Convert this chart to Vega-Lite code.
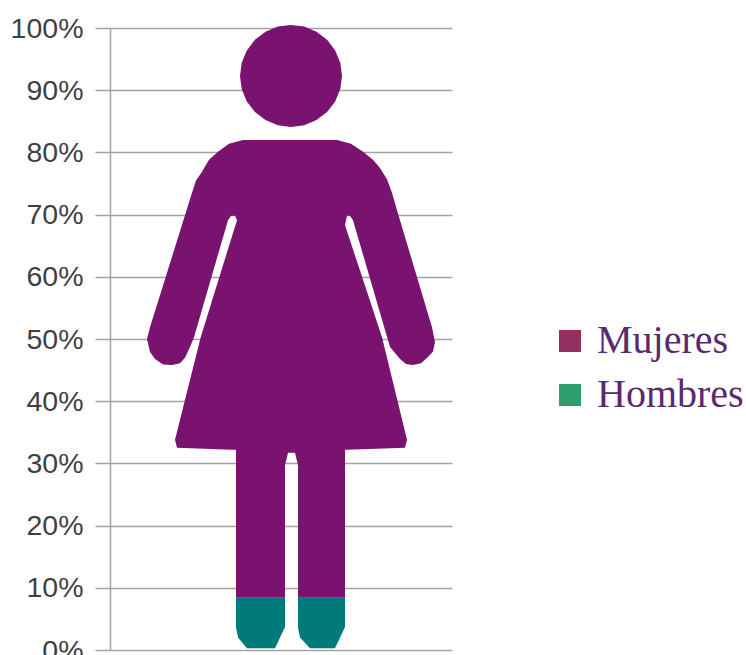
{"$schema":"https://vega.github.io/schema/vega-lite/v6.json","width":342,"height":622,"autosize":"none","padding":{"left":110,"top":28,"right":294,"bottom":5},"background":"white","view":{"stroke":null},
"resolve":{"scale":{"fill":"independent"}},
"layer":[
{"data":{"values":[
{"part":"head","group":"Mujeres","i":0,"x":232,"pct":92.3},{"part":"head","group":"Mujeres","i":1,"x":230.3,"pct":94.42},{"part":"head","group":"Mujeres","i":2,"x":225.2,"pct":96.4},{"part":"head","group":"Mujeres","i":3,"x":217.1,"pct":98.1},{"part":"head","group":"Mujeres","i":4,"x":206.5,"pct":99.41},{"part":"head","group":"Mujeres","i":5,"x":194.2,"pct":100.23},{"part":"head","group":"Mujeres","i":6,"x":181,"pct":100.5},{"part":"head","group":"Mujeres","i":7,"x":167.8,"pct":100.23},{"part":"head","group":"Mujeres","i":8,"x":155.5,"pct":99.41},{"part":"head","group":"Mujeres","i":9,"x":144.9,"pct":98.1},{"part":"head","group":"Mujeres","i":10,"x":136.8,"pct":96.4},{"part":"head","group":"Mujeres","i":11,"x":131.7,"pct":94.42},{"part":"head","group":"Mujeres","i":12,"x":130,"pct":92.3},{"part":"head","group":"Mujeres","i":13,"x":131.7,"pct":90.18},{"part":"head","group":"Mujeres","i":14,"x":136.8,"pct":88.2},{"part":"head","group":"Mujeres","i":15,"x":144.9,"pct":86.5},{"part":"head","group":"Mujeres","i":16,"x":155.5,"pct":85.19},{"part":"head","group":"Mujeres","i":17,"x":167.8,"pct":84.37},{"part":"head","group":"Mujeres","i":18,"x":181,"pct":84.1},{"part":"head","group":"Mujeres","i":19,"x":194.2,"pct":84.37},{"part":"head","group":"Mujeres","i":20,"x":206.5,"pct":85.19},{"part":"head","group":"Mujeres","i":21,"x":217.1,"pct":86.5},{"part":"head","group":"Mujeres","i":22,"x":225.2,"pct":88.2},{"part":"head","group":"Mujeres","i":23,"x":230.3,"pct":90.18},
{"part":"body","group":"Mujeres","i":0,"x":133,"pct":82},{"part":"body","group":"Mujeres","i":1,"x":227,"pct":82},{"part":"body","group":"Mujeres","i":2,"x":241,"pct":81.4},{"part":"body","group":"Mujeres","i":3,"x":253,"pct":80.1},{"part":"body","group":"Mujeres","i":4,"x":263,"pct":78.8},{"part":"body","group":"Mujeres","i":5,"x":270,"pct":77.5},{"part":"body","group":"Mujeres","i":6,"x":277,"pct":75.7},{"part":"body","group":"Mujeres","i":7,"x":282,"pct":73.5},{"part":"body","group":"Mujeres","i":8,"x":287,"pct":70.7},{"part":"body","group":"Mujeres","i":9,"x":322,"pct":51.9},{"part":"body","group":"Mujeres","i":10,"x":325,"pct":49.5},{"part":"body","group":"Mujeres","i":11,"x":323,"pct":48},{"part":"body","group":"Mujeres","i":12,"x":318,"pct":47.1},{"part":"body","group":"Mujeres","i":13,"x":311,"pct":46.1},{"part":"body","group":"Mujeres","i":14,"x":303,"pct":45.8},{"part":"body","group":"Mujeres","i":15,"x":296,"pct":46},{"part":"body","group":"Mujeres","i":16,"x":290,"pct":46.8},{"part":"body","group":"Mujeres","i":17,"x":280,"pct":48.7},{"part":"body","group":"Mujeres","i":18,"x":243,"pct":69.1},{"part":"body","group":"Mujeres","i":19,"x":240,"pct":69.8},{"part":"body","group":"Mujeres","i":20,"x":237,"pct":69.8},{"part":"body","group":"Mujeres","i":21,"x":235,"pct":68.3},{"part":"body","group":"Mujeres","i":22,"x":272,"pct":50.3},{"part":"body","group":"Mujeres","i":23,"x":297,"pct":33.8},{"part":"body","group":"Mujeres","i":24,"x":295,"pct":32.5},{"part":"body","group":"Mujeres","i":25,"x":237,"pct":32.2},{"part":"body","group":"Mujeres","i":26,"x":235,"pct":32.2},{"part":"body","group":"Mujeres","i":27,"x":235,"pct":8.4},{"part":"body","group":"Mujeres","i":28,"x":188,"pct":8.4},{"part":"body","group":"Mujeres","i":29,"x":188,"pct":29.7},{"part":"body","group":"Mujeres","i":30,"x":185,"pct":31.7},{"part":"body","group":"Mujeres","i":31,"x":178,"pct":31.7},{"part":"body","group":"Mujeres","i":32,"x":175,"pct":29.7},{"part":"body","group":"Mujeres","i":33,"x":175,"pct":8.4},{"part":"body","group":"Mujeres","i":34,"x":126,"pct":8.4},{"part":"body","group":"Mujeres","i":35,"x":126,"pct":32.2},{"part":"body","group":"Mujeres","i":36,"x":122,"pct":32.2},{"part":"body","group":"Mujeres","i":37,"x":67,"pct":32.5},{"part":"body","group":"Mujeres","i":38,"x":65,"pct":33.8},{"part":"body","group":"Mujeres","i":39,"x":90.7,"pct":50.3},{"part":"body","group":"Mujeres","i":40,"x":127,"pct":69.1},{"part":"body","group":"Mujeres","i":41,"x":125,"pct":69.8},{"part":"body","group":"Mujeres","i":42,"x":121,"pct":69.8},{"part":"body","group":"Mujeres","i":43,"x":118,"pct":69.1},{"part":"body","group":"Mujeres","i":44,"x":84,"pct":50.3},{"part":"body","group":"Mujeres","i":45,"x":80,"pct":48.7},{"part":"body","group":"Mujeres","i":46,"x":75,"pct":47},{"part":"body","group":"Mujeres","i":47,"x":70,"pct":46.1},{"part":"body","group":"Mujeres","i":48,"x":62,"pct":45.8},{"part":"body","group":"Mujeres","i":49,"x":53,"pct":45.9},{"part":"body","group":"Mujeres","i":50,"x":45,"pct":46.8},{"part":"body","group":"Mujeres","i":51,"x":40,"pct":47.9},{"part":"body","group":"Mujeres","i":52,"x":37,"pct":50},{"part":"body","group":"Mujeres","i":53,"x":40,"pct":51.9},{"part":"body","group":"Mujeres","i":54,"x":82,"pct":73.5},{"part":"body","group":"Mujeres","i":55,"x":86,"pct":75.5},{"part":"body","group":"Mujeres","i":56,"x":92,"pct":76.9},{"part":"body","group":"Mujeres","i":57,"x":99,"pct":78.8},{"part":"body","group":"Mujeres","i":58,"x":108,"pct":80.1},{"part":"body","group":"Mujeres","i":59,"x":119,"pct":81.4},
{"part":"footR","group":"Hombres","i":0,"x":188,"pct":8.4},{"part":"footR","group":"Hombres","i":1,"x":235,"pct":8.4},{"part":"footR","group":"Hombres","i":2,"x":235,"pct":3.7},{"part":"footR","group":"Hombres","i":3,"x":225,"pct":0.3},{"part":"footR","group":"Hombres","i":4,"x":200,"pct":0.3},{"part":"footR","group":"Hombres","i":5,"x":190,"pct":2},{"part":"footR","group":"Hombres","i":6,"x":188,"pct":3.6},
{"part":"footL","group":"Hombres","i":0,"x":126,"pct":8.4},{"part":"footL","group":"Hombres","i":1,"x":175,"pct":8.4},{"part":"footL","group":"Hombres","i":2,"x":175,"pct":3.7},{"part":"footL","group":"Hombres","i":3,"x":165,"pct":0.3},{"part":"footL","group":"Hombres","i":4,"x":137,"pct":0.3},{"part":"footL","group":"Hombres","i":5,"x":128,"pct":2},{"part":"footL","group":"Hombres","i":6,"x":126,"pct":3.6}
]},
"mark":{"type":"line","filled":true,"strokeWidth":0,"interpolate":"linear-closed"},
"encoding":{
"x":{"field":"x","type":"quantitative","scale":{"domain":[0,342],"nice":false,"zero":false},"axis":null},
"y":{"field":"pct","type":"quantitative","scale":{"domain":[0,100],"nice":false},"axis":{"title":null,"values":[0,10,20,30,40,50,60,70,80,90,100],"labelExpr":"datum.value + '%'","labelFont":"Liberation Sans","labelFontSize":28.5,"labelColor":"#3f3f3f","labelPadding":12,"tickSize":15,"tickColor":"#a3a3a3","tickWidth":1.5,"domainColor":"#a3a3a3","domainWidth":1.5,"grid":true,"gridColor":"#a3a3a3","gridWidth":1.5}},
"order":{"field":"i","type":"quantitative"},
"detail":{"field":"part"},
"fill":{"field":"group","type":"nominal","scale":{"domain":["Mujeres","Hombres"],"range":["#7a1270","#007a7a"]},"legend":null}
}},
{"data":{"values":[]},
"mark":{"type":"square","filled":true,"opacity":1},
"encoding":{
"fill":{"field":"group","type":"nominal","scale":{"domain":["Mujeres","Hombres"],"range":["#94305f","#2e9e6e"]},"legend":{"title":null,"orient":"none","legendX":440,"legendY":293,"symbolType":"square","symbolSize":484,"symbolStrokeWidth":0,"symbolOpacity":1,"labelFont":"Liberation Serif","labelFontSize":40,"labelColor":"#5a2a6e","labelOffset":7,"rowPadding":14,"labelLimit":300}}
}}
]}
